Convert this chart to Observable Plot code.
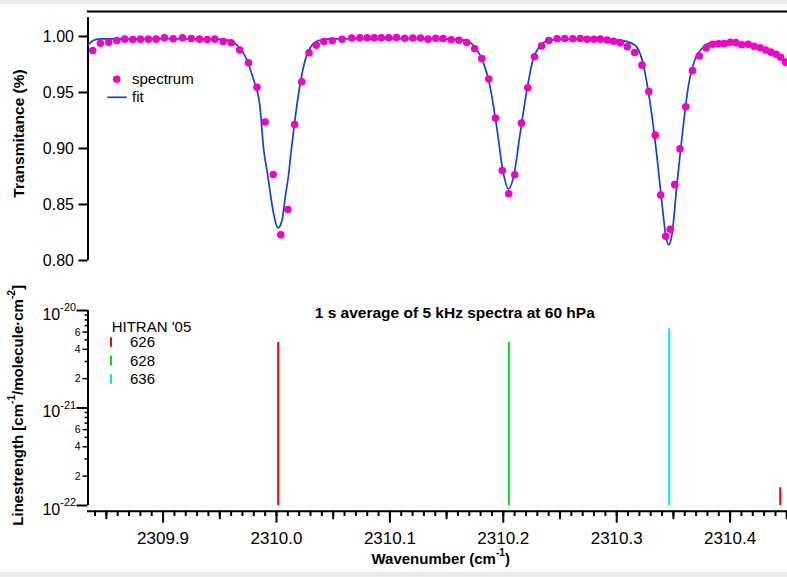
<!DOCTYPE html>
<html><head><meta charset="utf-8">
<script src="https://cdn.jsdelivr.net/npm/d3@7"></script>
<script src="https://cdn.jsdelivr.net/npm/@observablehq/plot@0.6"></script>
<style>
body{margin:0;background:#ebebeb;font-family:"Liberation Sans",Arial,sans-serif;}
#wrap{position:relative;width:787px;height:577px;overflow:hidden}
#sheet{position:absolute;left:0;top:4px;width:787px;height:568px;background:#fff}
#top{position:absolute;left:0;top:4px}
#bottom{position:absolute;left:0;top:265px}
#overlay{position:absolute;left:0;top:0;pointer-events:none}
</style></head>
<body><div id="wrap"><div id="sheet"></div><div id="top"></div><div id="bottom"></div>
<svg id="overlay" width="787" height="577"></svg></div>
<script>
// ---- measured spectrum (points) ----
const specWn = [2309.8380, 2309.8448, 2309.8521, 2309.8592, 2309.8662, 2309.8733, 2309.8801, 2309.8871, 2309.8939, 2309.9012,
 2309.9089, 2309.9171, 2309.9248, 2309.9321, 2309.9389, 2309.9456, 2309.9530, 2309.9601, 2309.9676, 2309.9753,
 2309.9828, 2309.9900, 2309.9971, 2310.0038, 2310.0100, 2310.0160, 2310.0223, 2310.0287, 2310.0351, 2310.0417,
 2310.0492, 2310.0578, 2310.0663, 2310.0735, 2310.0800, 2310.0862, 2310.0923, 2310.0990, 2310.1058, 2310.1131,
 2310.1202, 2310.1270, 2310.1336, 2310.1404, 2310.1470, 2310.1541, 2310.1609, 2310.1678, 2310.1748, 2310.1810,
 2310.1872, 2310.1931, 2310.1991, 2310.2048, 2310.2101, 2310.2160, 2310.2216, 2310.2275, 2310.2337, 2310.2401,
 2310.2474, 2310.2542, 2310.2613, 2310.2678, 2310.2738, 2310.2797, 2310.2855, 2310.2916, 2310.2972, 2310.3031,
 2310.3093, 2310.3159, 2310.3223, 2310.3283, 2310.3340, 2310.3388, 2310.3432, 2310.3472, 2310.3512, 2310.3558,
 2310.3609, 2310.3668, 2310.3728, 2310.3789, 2310.3845, 2310.3899, 2310.3949, 2310.4001, 2310.4050, 2310.4103,
 2310.4160, 2310.4211, 2310.4265, 2310.4314, 2310.4359, 2310.4405, 2310.4446, 2310.4489];
const specT = [0.9875, 0.9940, 0.9949, 0.9964, 0.9976, 0.9973, 0.9976, 0.9976, 0.9976, 0.9988,
 0.9979, 0.9988, 0.9982, 0.9976, 0.9973, 0.9976, 0.9955, 0.9944, 0.9879, 0.9765,
 0.9546, 0.9237, 0.8768, 0.8229, 0.8455, 0.9214, 0.9596, 0.9855, 0.9921, 0.9955,
 0.9962, 0.9975, 0.9986, 0.9988, 0.9988, 0.9988, 0.9988, 0.9988, 0.9991, 0.9984,
 0.9987, 0.9987, 0.9976, 0.9984, 0.9982, 0.9971, 0.9966, 0.9946, 0.9891, 0.9804,
 0.9621, 0.9272, 0.8804, 0.8596, 0.8766, 0.9226, 0.9542, 0.9819, 0.9915, 0.9964,
 0.9980, 0.9982, 0.9980, 0.9982, 0.9975, 0.9975, 0.9976, 0.9969, 0.9958, 0.9944,
 0.9909, 0.9857, 0.9744, 0.9509, 0.9119, 0.8585, 0.8217, 0.8279, 0.8677, 0.8997,
 0.9373, 0.9695, 0.9826, 0.9897, 0.9931, 0.9935, 0.9936, 0.9948, 0.9945, 0.9926,
 0.9931, 0.9912, 0.9899, 0.9879, 0.9860, 0.9841, 0.9814, 0.9771];

// ---- fit curve ----
const fitWn = [2309.8340, 2309.8384, 2309.8442, 2309.8624, 2309.8977, 2309.9330, 2309.9506, 2309.9588, 2309.9662, 2309.9735,
 2309.9795, 2309.9853, 2309.9888, 2309.9916, 2309.9934, 2309.9976, 2310.0013, 2310.0050, 2310.0079, 2310.0106,
 2310.0128, 2310.0153, 2310.0197, 2310.0241, 2310.0300, 2310.0373, 2310.0476, 2310.0741, 2310.1270, 2310.1578,
 2310.1675, 2310.1749, 2310.1823, 2310.1881, 2310.1940, 2310.1999, 2310.2046, 2310.2093, 2310.2146, 2310.2205,
 2310.2264, 2310.2322, 2310.2396, 2310.2504, 2310.2857, 2310.2989, 2310.3075, 2310.3163, 2310.3221, 2310.3280,
 2310.3340, 2310.3398, 2310.3433, 2310.3457, 2310.3486, 2310.3530, 2310.3574, 2310.3633, 2310.3692, 2310.3750,
 2310.3810, 2310.3898, 2310.4004, 2310.4109, 2310.4224, 2310.4356, 2310.4506];
const fitT = [0.9926, 0.9964, 0.9978, 0.9979, 0.9980, 0.9979, 0.9975, 0.9964, 0.9913, 0.9801,
 0.9622, 0.9384, 0.8982, 0.8804, 0.8679, 0.8411, 0.8290, 0.8366, 0.8580, 0.8759,
 0.8964, 0.9176, 0.9503, 0.9741, 0.9904, 0.9964, 0.9978, 0.9980, 0.9980, 0.9975,
 0.9964, 0.9904, 0.9771, 0.9563, 0.9205, 0.8788, 0.8640, 0.8759, 0.9116, 0.9503,
 0.9801, 0.9913, 0.9964, 0.9973, 0.9973, 0.9969, 0.9958, 0.9920, 0.9801, 0.9503,
 0.9056, 0.8521, 0.8223, 0.8140, 0.8223, 0.8670, 0.9087, 0.9563, 0.9801, 0.9890,
 0.9938, 0.9951, 0.9951, 0.9933, 0.9911, 0.9862, 0.9777];

// ---- HITRAN '05 line list ----
const lineWn  = [2310.0015, 2310.2049, 2310.3463, 2310.4442];
const lineS   = [4.7e-21, 4.7e-21, 6.5e-21, 1.52e-22];
const lineIso = ["626", "628", "636", "626"];
const isotopes  = ["626", "628", "636"];
const isoColors = ["#ff0000", "#00e000", "#00e4ff"];

// ---- ticks & labels ----
const xMajorTicks = [2309.9, 2310.0, 2310.1, 2310.2, 2310.3, 2310.4];
const xMajorLabels = ["2309.9", "2310.0", "2310.1", "2310.2", "2310.3", "2310.4"];
const xMidTicks = [2309.85, 2309.95, 2310.05, 2310.15, 2310.25, 2310.35, 2310.45];
const yTopTicks = [0.80, 0.85, 0.90, 0.95, 1.00];
const yTopLabels = ["0.80", "0.85", "0.90", "0.95", "1.00"];
const yLogMajor = [1e-22, 1e-21, 1e-20];
const yLogMajorLabels = ["10^{-22}", "10^{-21}", "10^{-20}"];
const yLogMid = [2e-22, 4e-22, 6e-22, 2e-21, 4e-21, 6e-21];
const yLogMidLabels = ["2", "4", "6", "2", "4", "6"];
const yLogMinor = [3e-22, 5e-22, 7e-22, 8e-22, 9e-22, 3e-21, 5e-21, 7e-21, 8e-21, 9e-21];

// ---- texts ----
const topYLabel = "Transmitance (%)";
const botYLabel = "Linestrength [cm^{-1}/molecule\u00b7cm^{-2}]";
const xLabel = "Wavenumber (cm^{-1})";
const title = "1 s average of 5 kHz spectra at 60 hPa";
const legendTop = ["spectrum", "fit"];
const legendBotTitle = "HITRAN '05";

const magenta = "#f200c8", blue = "#0d42d8";
const FONT = '"Liberation Sans", Arial, sans-serif';
const xDomain = [2309.8338, 2310.4506];
const xMinorTicks = d3.range(0, 62).map(i => +(2309.84 + i * 0.01).toFixed(2)).filter(v => v <= xDomain[1]);
const lookup = (ticks, labels) => d => {
  const i = ticks.findIndex(v => Math.abs(v - d) <= Math.abs(v) * 1e-6);
  return i < 0 ? "" : labels[i];
};

const spec = specWn.map((w, i) => ({w, t: specT[i]}));
const fit = fitWn.map((w, i) => ({w, t: fitT[i]}));
const sticks = lineWn.map((w, i) => ({w, s: lineS[i], iso: lineIso[i]}));
const style = {fontFamily: FONT, background: "transparent", color: "#000", overflow: "visible"};

const topPlot = Plot.plot({
  width: 787, height: 261, marginLeft: 87.5, marginRight: 0, marginTop: 7, marginBottom: 5,
  style,
  x: {domain: xDomain, axis: null},
  y: {domain: [0.80, 1.0223], axis: null},
  marks: [
    Plot.frame({anchor: "top", strokeWidth: 2.2, stroke: "#000"}),
    Plot.ruleX([xDomain[0]], {y1: 0.80, y2: 1.017, strokeWidth: 2, stroke: "#000"}),
    Plot.axisY({ticks: yTopTicks, tickFormat: lookup(yTopTicks, yTopLabels), tickSize: 9, tickPadding: 5,
      fontSize: 16, strokeWidth: 2, label: null}),
    Plot.line(fit, {x: "w", y: "t", stroke: blue, strokeWidth: 1.7, curve: "monotone-x", clip: true}),
    Plot.dot(spec, {x: "w", y: "t", r: 3.8, fill: magenta, stroke: "none"}),
    Plot.text([topYLabel], {frameAnchor: "left", textAnchor: "middle", rotate: -90, dx: -69, dy: -2.5,
      fontWeight: "bold", fontSize: 15.5})
  ]
});
document.getElementById("top").appendChild(topPlot);

const botPlot = Plot.plot({
  width: 787, height: 307, marginLeft: 87.5, marginRight: 0, marginTop: 45, marginBottom: 61.3,
  style,
  x: {domain: xDomain, axis: null},
  y: {type: "log", domain: [1e-22, 1e-20], insetBottom: 5.7, axis: null},
  color: {domain: isotopes, range: isoColors},
  marks: [
    Plot.frame({anchor: "bottom", strokeWidth: 2, stroke: "#000"}),
    Plot.ruleX([xDomain[0]], {y1: 1e-22, y2: 1e-20, strokeWidth: 2, stroke: "#000"}),
    Plot.axisX({ticks: xMinorTicks, tickSize: 5.3, tickFormat: () => "", strokeWidth: 2, label: null}),
    Plot.axisX({ticks: xMidTicks, tickSize: 8.5, tickFormat: () => "", strokeWidth: 2, label: null}),
    Plot.axisX({ticks: xMajorTicks, tickSize: 12, tickPadding: 9, fontSize: 17, strokeWidth: 2,
      tickFormat: lookup(xMajorTicks, xMajorLabels), label: null}),
    Plot.axisY({ticks: yLogMinor, tickSize: 3, tickFormat: () => "", strokeWidth: 1.5, label: null}),
    Plot.axisY({ticks: yLogMid, tickSize: 5, tickFormat: () => "", strokeWidth: 1.5, label: null}),
    Plot.text(yLogMid, {y: d => d, text: (d, i) => yLogMidLabels[i], frameAnchor: "left", textAnchor: "end",
      dx: -7.5, fontSize: 10.5}),
    Plot.axisY({ticks: yLogMajor, tickSize: 11, tickPadding: 1, fontSize: 16, strokeWidth: 2,
      tickFormat: lookup(yLogMajor, yLogMajorLabels), label: null}),
    Plot.ruleX(sticks, {x: "w", y1: 1e-22, y2: "s", stroke: "iso", strokeWidth: 2}),
    Plot.text([title], {frameAnchor: "top", dx: 17, dy: -3.5, fontWeight: "bold", fontSize: 15.5}),
    Plot.text([xLabel], {frameAnchor: "bottom", dx: 3, dy: 53, fontWeight: "bold", fontSize: 15}),
    Plot.text([botYLabel], {frameAnchor: "left", textAnchor: "middle", rotate: -90, dx: -69.5, dy: -5.5,
      fontWeight: "bold", fontSize: 15})
  ]
});
document.getElementById("bottom").appendChild(botPlot);

// superscripts: "a^{b}c" -> tspans
function supify(svg) {
  svg.querySelectorAll("text").forEach(t => {
    const s = t.textContent;
    if (!s.includes("^{")) return;
    const fs = parseFloat(getComputedStyle(t).fontSize) || 14;
    const parts = s.split(/\^\{(.*?)\}/);
    const isTick = s.startsWith("10^{");
    const base = isTick ? 4 : 0;
    const up = isTick ? 8.5 : fs * 0.55;
    while (t.firstChild) t.removeChild(t.firstChild);
    parts.forEach((p, i) => {
      if (!p.length && i % 2 === 0) return;
      const ts = document.createElementNS("http://www.w3.org/2000/svg", "tspan");
      ts.textContent = p;
      if (i % 2 === 1) {
        ts.setAttribute("font-size", (fs * 0.68).toFixed(1));
        ts.setAttribute("dy", (-up).toFixed(1));
      } else if (i === 0) {
        if (base) ts.setAttribute("dy", base);
      } else {
        ts.setAttribute("dy", up.toFixed(1));
      }
      t.appendChild(ts);
    });
  });
}
supify(topPlot); supify(botPlot);

// ---- legends ----
const ov = d3.select("#overlay").style("font-family", FONT);
ov.append("circle").attr("cx", 116.7).attr("cy", 79.3).attr("r", 3.8).attr("fill", magenta);
ov.append("text").attr("x", 132).attr("y", 84.2).attr("font-size", 15).text(legendTop[0]);
ov.append("line").attr("x1", 107.3).attr("x2", 126.7).attr("y1", 97.3).attr("y2", 97.3)
  .attr("stroke", blue).attr("stroke-width", 1.7);
ov.append("text").attr("x", 132).attr("y", 101.5).attr("font-size", 15).text(legendTop[1]);

ov.append("text").attr("x", 111.7).attr("y", 331.5).attr("font-size", 15).text(legendBotTitle);
isotopes.forEach((iso, i) => {
  const yb = 347 + i * 18.5;
  ov.append("line").attr("x1", 111).attr("x2", 111).attr("y1", yb - 9.7).attr("y2", yb - 0.3)
    .attr("stroke", isoColors[i]).attr("stroke-width", 2);
  ov.append("text").attr("x", 130).attr("y", yb).attr("font-size", 15).text(iso);
});
</script>
</body></html>
